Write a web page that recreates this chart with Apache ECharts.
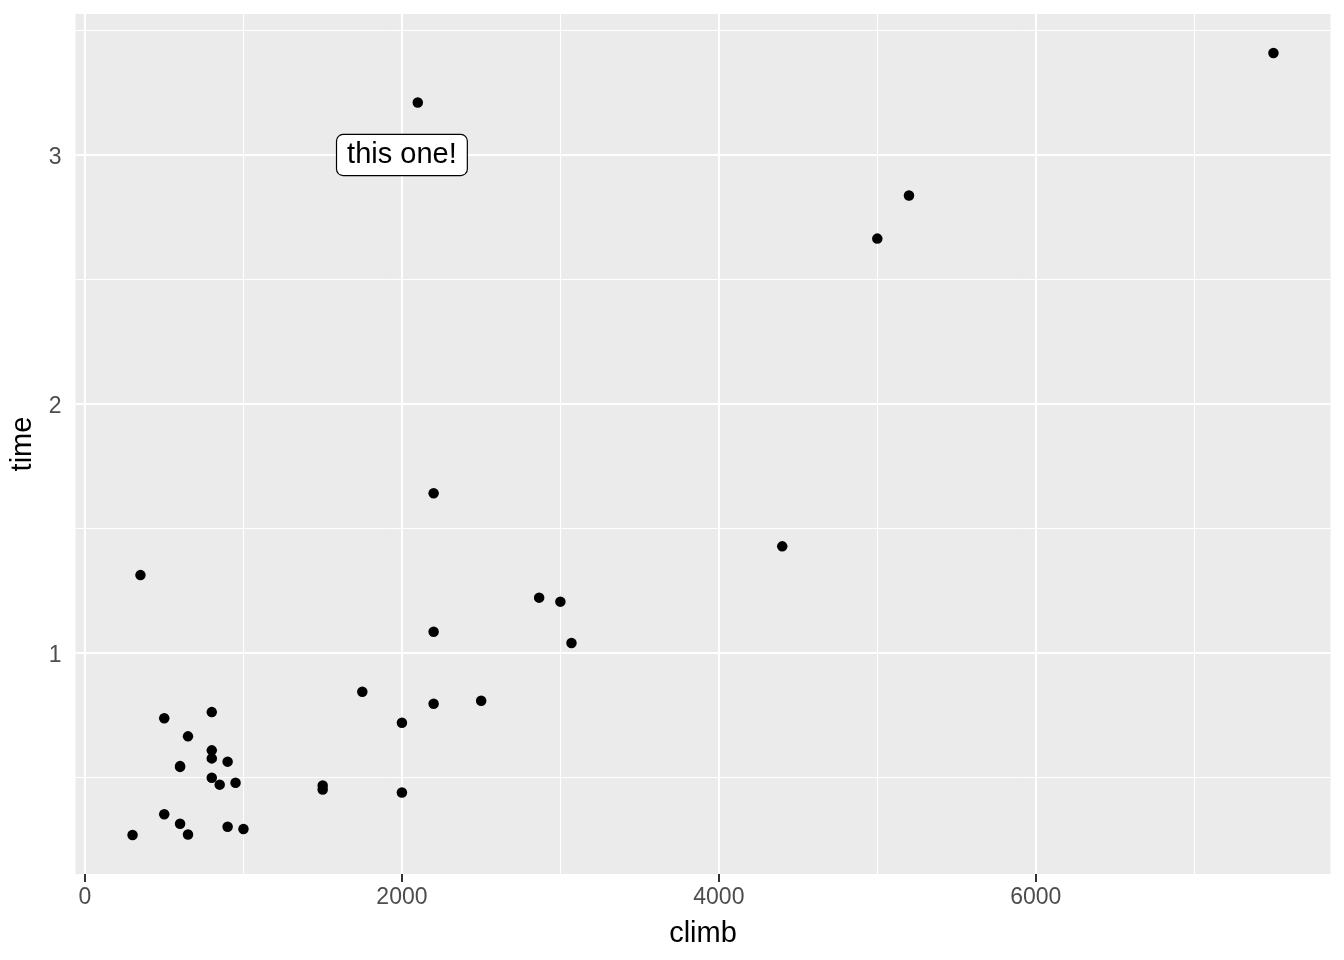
<!DOCTYPE html>
<html>
<head>
<meta charset="utf-8">
<script src="https://cdn.jsdelivr.net/npm/echarts@6/dist/echarts.min.js"></script>
<style>html,body{margin:0;padding:0;background:#fff}#c{width:1344px;height:960px}</style>
</head>
<body>
<div id="c"></div>
<script>
// hills data: climb (ft), time (hours)
const climb = [650,2500,900,800,3070,2866,7500,800,800,650,2100,2000,2200,500,1500,3000,2200,350,1000,600,300,1500,2200,900,600,2000,800,950,1750,500,4400,600,5200,850,5000];
const timeMin = [16.083,48.350,33.650,45.600,62.267,73.217,204.617,36.367,29.750,39.750,192.667,43.050,65.000,44.133,26.933,72.250,98.417,78.650,17.417,32.567,15.950,27.900,47.633,17.933,18.683,26.217,34.433,28.567,50.500,20.950,85.583,32.383,170.250,28.100,159.833];
const time = timeMin.map(t => t / 60);
const xMajor = [0, 2000, 4000, 6000];
const xMinor = [1000, 3000, 5000, 7000];
const yMajor = [1, 2, 3];
const yMinor = [0.5, 1.5, 2.5, 3.5];
const labelPoint = [2000, 3];
const labelText = 'this one!';

const font = 'Liberation Sans, Arial, sans-serif';
const chart = echarts.init(document.getElementById('c'), null, {renderer: 'canvas'});

function gridSeries(vals, axisKey, width) {
  return {
    type: 'line', data: [], z: 1, silent: true,
    markLine: {
      silent: true, symbol: ['none', 'none'], animation: false,
      label: {show: false},
      lineStyle: {color: '#ffffff', width: width, type: 'solid'},
      emphasis: {disabled: true},
      data: vals.map(v => ({[axisKey]: v}))
    }
  };
}

chart.setOption({
  animation: false,
  backgroundColor: '#ffffff',
  grid: {left: 75.5, right: 13.5, top: 14, bottom: 86, show: true, backgroundColor: '#EBEBEB', borderWidth: 0,
         containLabel: false, outerBoundsMode: 'none'},
  xAxis: {
    type: 'value', min: -60, max: 7860,
    name: 'climb', nameLocation: 'middle', nameGap: 45,
    nameTextStyle: {fontFamily: font, fontSize: 29, color: '#000'},
    axisLine: {show: false},
    axisTick: {show: true, length: 8, lineStyle: {color: '#333333', width: 2}, customValues: xMajor},
    axisLabel: {fontFamily: font, fontSize: 23, color: '#4D4D4D', margin: 12, customValues: xMajor, formatter: v => String(v)},
    splitLine: {show: false}
  },
  yAxis: {
    type: 'value', min: 0.109, max: 3.567,
    name: 'time', nameLocation: 'middle', nameGap: 33,
    nameTextStyle: {fontFamily: font, fontSize: 29, color: '#000'},
    axisLine: {show: false},
    axisTick: {show: true, length: 8, lineStyle: {color: '#333333', width: 2}, customValues: yMajor},
    axisLabel: {
      fontFamily: font, fontSize: 23, color: '#4D4D4D', margin: 14, customValues: yMajor,
      formatter: v => '{a|' + v + '}',
      rich: {a: {fontFamily: font, fontSize: 23, color: '#4D4D4D', padding: [6, 0, 0, 0]}}
    },
    splitLine: {show: false}
  },
  series: [
    gridSeries(xMinor, 'xAxis', 1),
    gridSeries(yMinor, 'yAxis', 1),
    gridSeries(xMajor, 'xAxis', 2.1),
    gridSeries(yMajor, 'yAxis', 2.1),
    {
      type: 'scatter', z: 5, symbol: 'circle', symbolSize: 10.5,
      itemStyle: {color: '#000000', opacity: 1},
      data: climb.map((c, i) => [c, time[i]])
    },
    {
      type: 'scatter', z: 6, symbolSize: 0,
      itemStyle: {opacity: 1},
      data: [labelPoint],
      label: {
        show: true, position: 'inside', formatter: labelText,
        fontFamily: font, fontSize: 29, color: '#000000', lineHeight: 30,
        backgroundColor: '#ffffff', borderColor: '#000000', borderWidth: 1.2,
        borderRadius: 6, padding: [7, 10, 3, 10], opacity: 1
      }
    }
  ]
});
</script>
</body>
</html>
